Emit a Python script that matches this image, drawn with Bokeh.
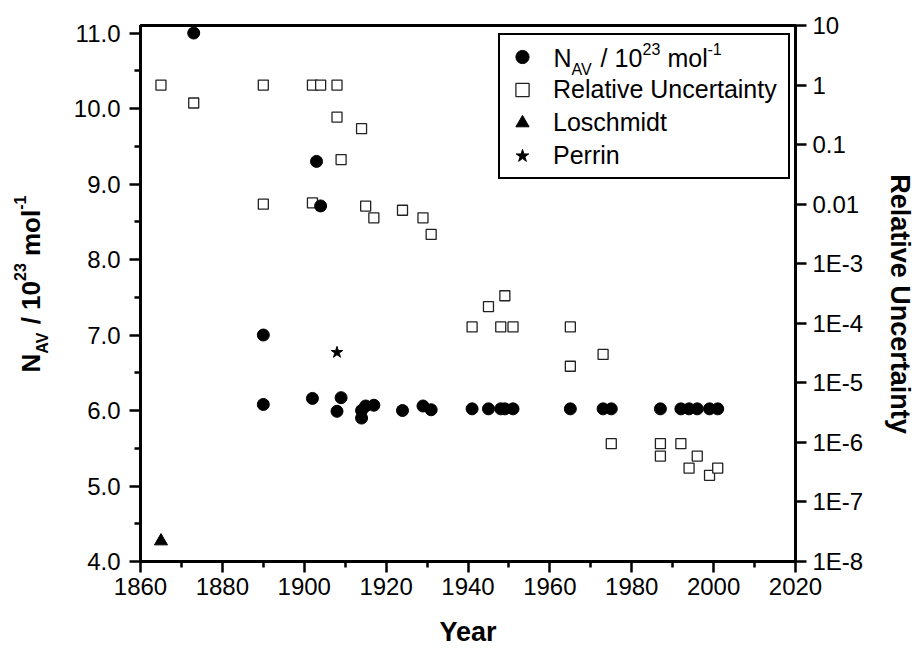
import math
from bokeh.plotting import figure
from bokeh.layouts import row
from bokeh.models import (Range1d, LogScale, LogAxis, FixedTicker, Label, Legend,
                          LegendItem, PrintfTickFormatter)
from bokeh.core.properties import value
from bokeh.embed import file_html
from bokeh.resources import INLINE

# ---------------- data ----------------
nav_year = [1873, 1890, 1890, 1902, 1903, 1904, 1908, 1909, 1914, 1914, 1915, 1917,
            1924, 1929, 1931, 1941, 1945, 1948, 1949, 1951, 1965, 1973, 1975, 1987,
            1992, 1994, 1996, 1999, 2001]
nav_value = [11.0, 7.0, 6.08, 6.16, 9.30, 8.71, 5.99, 6.17, 5.90, 6.0, 6.06, 6.07,
             6.0, 6.06, 6.01, 6.022, 6.022, 6.022, 6.022, 6.022, 6.022, 6.022, 6.022, 6.022,
             6.022, 6.022, 6.022, 6.022, 6.022]

unc_year = [1865, 1873, 1890, 1890, 1902, 1902, 1904, 1908, 1908, 1909, 1914, 1915,
            1917, 1924, 1929, 1931, 1941, 1945, 1948, 1949, 1951, 1965, 1965, 1973,
            1975, 1987, 1987, 1992, 1994, 1996, 1999, 2001]
unc_value = [1.0, 0.5, 1.0, 0.01, 1.0, 0.0105, 1.0, 1.0, 0.29, 0.056, 0.185, 0.0093,
             0.0059, 0.0079, 0.0059, 0.0031, 8.7e-5, 1.9e-4, 8.7e-5, 2.9e-4, 8.7e-5, 8.7e-5, 1.9e-5, 3.0e-5,
             9.5e-7, 9.5e-7, 5.9e-7, 9.5e-7, 3.7e-7, 5.9e-7, 2.8e-7, 3.7e-7]

loschmidt_year = [1865]
loschmidt_value = [4.27]
perrin_year = [1908]
perrin_value = [6.77]

x_ticks = [1860, 1880, 1900, 1920, 1940, 1960, 1980, 2000, 2020]
x_minor = [1870, 1890, 1910, 1930, 1950, 1970, 1990, 2010]
y_ticks = [4.0, 5.0, 6.0, 7.0, 8.0, 9.0, 10.0, 11.0]
y_minor = [4.5, 5.5, 6.5, 7.5, 8.5, 9.5, 10.5]
r_ticks = [1e-8, 1e-7, 1e-6, 1e-5, 1e-4, 1e-3, 1e-2, 1e-1, 1.0, 10.0]
r_labels = ["1E-8", "1E-7", "1E-6", "1E-5", "1E-4", "1E-3", "0.01", "0.1", "1", "10"]

FONT = "Liberation Sans"
MID = 0.3465             # (ascent - descent) / 2 in em: baseline offset from a "middle" anchor
H = 650
FT, FBOT = 25, 561       # frame top / bottom (page px)
FL, FR = 140, 796        # frame left / right (page px)
LW, RW = 60, 53          # side strips holding the rotated axis titles
MW = 919 - LW - RW       # main figure width

p = figure(width=MW, height=H, x_range=Range1d(1860, 2020), y_range=Range1d(4.0, 11.1),
           output_backend="svg", toolbar_location=None,
           min_border_left=FL - LW, min_border_right=LW + MW - FR,
           min_border_top=FT, min_border_bottom=H - FBOT)
p.background_fill_color = "white"
p.border_fill_color = "white"
p.xgrid.visible = False
p.ygrid.visible = False
p.outline_line_color = "black"
p.outline_line_width = 3

p.extra_y_ranges = {"unc": Range1d(1e-8, 10)}
p.extra_y_scales = {"unc": LogScale()}

def style_axis(ax, tick_out, minor_out, standoff):
    ax.axis_line_color = "black"
    ax.axis_line_width = 3
    ax.major_tick_line_color = "black"
    ax.major_tick_line_width = 2.5
    ax.minor_tick_line_color = "black"
    ax.minor_tick_line_width = 2.5
    ax.major_tick_in = 0
    ax.major_tick_out = tick_out
    ax.minor_tick_in = 0
    ax.minor_tick_out = minor_out
    ax.major_label_standoff = standoff
    ax.major_label_text_font = FONT
    ax.major_label_text_font_size = "24px"
    ax.major_label_text_color = "black"

xa = p.xaxis[0]
xa.ticker = FixedTicker(ticks=x_ticks, minor_ticks=x_minor)
style_axis(xa, 11, 6, 5)
xa.axis_label = "Year"
xa.axis_label_text_font = FONT
xa.axis_label_text_font_size = "27px"
xa.axis_label_text_font_style = "bold"
xa.axis_label_text_color = "black"
xa.axis_label_standoff = 19

ya = p.yaxis[0]
ya.ticker = FixedTicker(ticks=y_ticks, minor_ticks=y_minor)
ya.formatter = PrintfTickFormatter(format="%.1f")
style_axis(ya, 11, 6, 9)

ra = LogAxis(y_range_name="unc", ticker=FixedTicker(ticks=r_ticks, minor_ticks=[]),
             major_label_overrides={t: l for t, l in zip(r_ticks, r_labels)})
style_axis(ra, 11, 0, 6)
p.add_layout(ra, "right")

# ---------------- data marks ----------------
r_unc = p.scatter(unc_year, unc_value, marker="square", size=10, fill_color="white",
                  line_color="#222222", line_width=1.3, y_range_name="unc")
r_nav = p.scatter(nav_year, nav_value, marker="circle", size=12, fill_color="black",
                  line_color="black")
r_los = p.scatter(loschmidt_year, loschmidt_value, marker="triangle", size=13,
                  fill_color="black", line_color="black")
r_per = p.scatter(perrin_year, perrin_value, marker="star", size=12,
                  fill_color="black", line_color="black")

# ---------------- legend ----------------
legend = Legend(items=[LegendItem(label=" ", renderers=[r_nav]),
                       LegendItem(label="Relative Uncertainty", renderers=[r_unc]),
                       LegendItem(label="Loschmidt", renderers=[r_los]),
                       LegendItem(label="Perrin", renderers=[r_per])],
                location=(498 - FL, FBOT - 179), margin=0, padding=5, spacing=0,
                glyph_width=34, glyph_height=33, label_standoff=14,
                label_width=230, label_height=33,
                label_text_font=FONT, label_text_font_size="25px", label_text_color="black",
                border_line_color="black", border_line_width=2, border_line_alpha=1.0,
                background_fill_color="white", background_fill_alpha=0.0)
p.add_layout(legend, "center")

def add_text(text, px, baseline_py, size):
    p.add_layout(Label(x=px - FL, y=FBOT - (baseline_py - MID * size),
                       x_units="screen", y_units="screen",
                       text=text, text_align="left", text_baseline="middle",
                       text_font=FONT, text_font_size=f"{size}px", text_color="black"))

# legend first entry with sub/superscripts (page px, baselines)
lb = 66
add_text("N", 553, lb, 25)
add_text("AV", 571, lb + 9, 16)
add_text("/", 600, lb, 25)
add_text("10", 614, lb, 25)
add_text("23", 642, lb - 12, 16)
add_text("mol", 667, lb, 25)
add_text("-1", 707, lb - 12, 16)

# ---------------- side strips with rotated titles ----------------
# Their frames share the main frame's top/bottom, so data y = H - page y.
def strip(width):
    s = figure(width=width, height=H, x_range=Range1d(0, width),
               y_range=Range1d(H - FBOT, H - FT),
               output_backend="svg", toolbar_location=None, x_axis_type=None, y_axis_type=None,
               min_border_left=0, min_border_right=0, min_border_top=FT,
               min_border_bottom=H - FBOT)
    s.xgrid.visible = False
    s.ygrid.visible = False
    s.outline_line_color = None
    s.background_fill_color = "white"
    s.border_fill_color = "white"
    return s

left_strip = strip(LW)
# pieces of "N_AV / 10^23 mol^-1": text, baseline x (page px), start y (page px), font size
lt_text = ["N", "AV", "/", "10", "23", "mol", "-1"]
lt_base = [40, 48, 40, 40, 25, 40, 25]
lt_y = [372, 353.2, 323.8, 309.4, 280.5, 255.5, 209.3]
lt_px = [26, 16, 26, 26, 16, 26, 16]
left_strip.text(x=[b - MID * s for b, s in zip(lt_base, lt_px)], y=[H - v for v in lt_y],
                text=lt_text, angle=math.pi / 2,
                text_font=value(FONT), text_font_size=[f"{s}px" for s in lt_px],
                text_font_style=value("bold"),
                text_align=value("left"), text_baseline=value("middle"),
                text_color=value("black"))

right_strip = strip(RW)
right_strip.text(x=[890 + MID * 27 - (919 - RW)], y=[H - 303.5], text=["Relative Uncertainty"],
                 angle=-math.pi / 2, text_font=value(FONT), text_font_size=value("27px"),
                 text_font_style=value("bold"), text_align=value("center"),
                 text_baseline=value("middle"), text_color=value("black"))

layout = row(left_strip, p, right_strip, spacing=0)
open("out.html", "w").write(file_html(layout, INLINE))
